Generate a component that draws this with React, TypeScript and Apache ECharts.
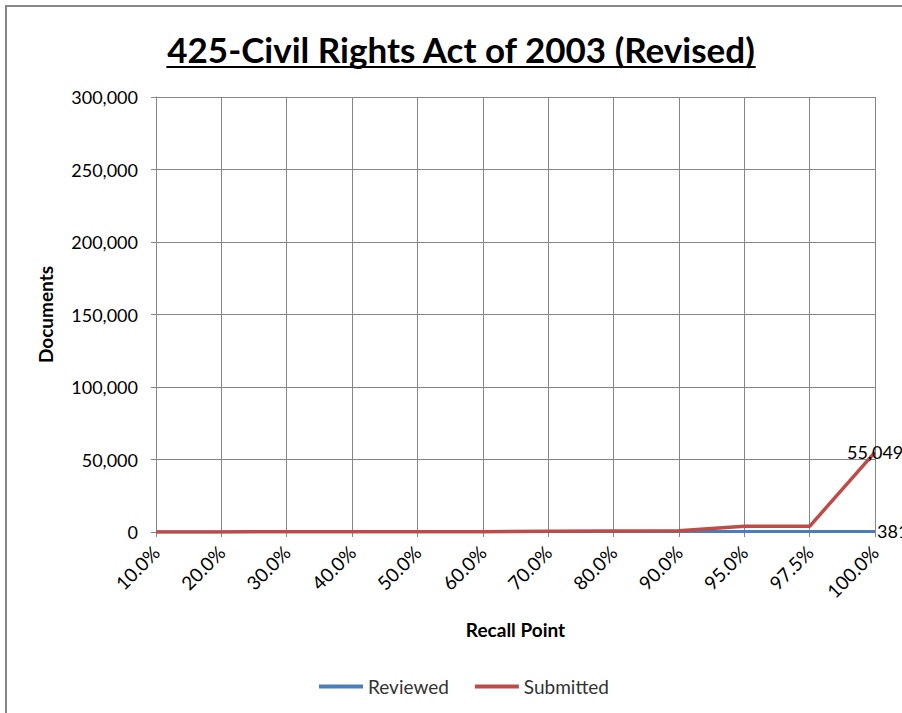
import React, { useEffect, useRef } from "react";
import * as echarts from "echarts";

const categories = ["10.0%", "20.0%", "30.0%", "40.0%", "50.0%", "60.0%", "70.0%", "80.0%", "90.0%", "95.0%", "97.5%", "100.0%"];
const reviewed = [35, 70, 110, 150, 185, 220, 260, 290, 320, 350, 365, 381];
const submitted = [40, 80, 120, 160, 200, 250, 450, 650, 800, 3900, 3900, 55049];
const yTicks = [0, 50000, 100000, 150000, 200000, 250000, 300000];
const titleText = "425-Civil Rights Act of 2003 (Revised)";
const seriesNames = ["Reviewed", "Submitted"];

const FONT = "Lato, 'Open Sans', sans-serif";

export default function App() {
  const ref = useRef<HTMLDivElement>(null);
  useEffect(() => {
    if (!ref.current) return;
    const chart = echarts.init(ref.current, undefined, { renderer: "svg" });
    const cv = document.createElement("canvas").getContext("2d")!;
    cv.font = `bold 32px Lato`;
    const w32 = cv.measureText(titleText).width;
    const titleSize = Math.round((32 * 588) / w32);
    cv.font = `bold ${titleSize}px Lato`;
    const tw = cv.measureText(titleText).width;
    const tcx = 461;
    const fmt = (v: number) => v.toLocaleString("en-US");
    const lastLabel = (data: number[], offset: number[]) =>
      data.map((v, i) =>
        i === data.length - 1
          ? { value: v, label: { show: true, position: "right", distance: 2, offset, formatter: fmt(v), color: "#000", fontSize: 18, fontFamily: FONT } }
          : v
      );
    chart.setOption({
      animation: false,
      backgroundColor: "#fff",
      textStyle: { fontFamily: FONT },
      graphic: [
        { type: "rect", shape: { x: 6, y: 6, width: 1000, height: 1000 }, style: { fill: "none", stroke: "#868686", lineWidth: 2 }, silent: true },
        { type: "text", x: tcx, y: 49, style: { text: titleText, font: `bold ${titleSize}px ${FONT}`, fill: "#000", align: "center", verticalAlign: "middle" } },
        { type: "line", shape: { x1: tcx - tw / 2, y1: 67, x2: tcx + tw / 2, y2: 67 }, style: { stroke: "#000", lineWidth: 2 } },
      ],
      grid: { left: 156, right: 27, top: 97, bottom: 181, containLabel: false },
      legend: {
        bottom: 12,
        left: 314,
        icon: "rect",
        itemWidth: 44,
        itemHeight: 4,
        itemGap: 26,
        textStyle: { fontSize: 19, color: "#333", fontFamily: FONT },
        data: seriesNames,
      },
      xAxis: {
        type: "category",
        data: categories,
        boundaryGap: false,
        name: "Recall Point",
        nameLocation: "middle",
        nameGap: 88,
        nameTextStyle: { fontSize: 19, fontWeight: "bold", color: "#000", fontFamily: FONT },
        axisLine: { lineStyle: { color: "#868686" } },
        axisTick: { show: true, length: 5, lineStyle: { color: "#868686" } },
        axisLabel: { rotate: 45, fontSize: 19, color: "#000", margin: 17, fontFamily: FONT, interval: 0 },
        splitLine: { show: true, lineStyle: { color: "#868686", width: 1 } },
      },
      yAxis: {
        type: "value",
        min: 0,
        max: 300000,
        interval: 50000,
        name: "Documents",
        nameLocation: "middle",
        nameGap: 101,
        nameRotate: 90,
        nameTextStyle: { fontSize: 19, fontWeight: "bold", color: "#000", fontFamily: FONT },
        axisLine: { show: true, lineStyle: { color: "#868686" } },
        axisTick: { show: true, length: 5, lineStyle: { color: "#868686" } },
        axisLabel: { fontSize: 18, color: "#000", margin: 18, fontFamily: FONT, formatter: (v: number) => (yTicks.includes(v) ? fmt(v) : "") },
        splitLine: { show: true, lineStyle: { color: "#868686", width: 1 } },
      },
      series: [
        {
          name: seriesNames[0],
          type: "line",
          data: lastLabel(reviewed, [0, 0]),
          symbol: "circle",
          symbolSize: 0,
          showSymbol: true,
          lineStyle: { color: "#4a7ebb", width: 3 },
          itemStyle: { color: "#4a7ebb" },
        },
        {
          name: seriesNames[1],
          type: "line",
          data: lastLabel(submitted, [-30, 0]),
          symbol: "circle",
          symbolSize: 0,
          showSymbol: true,
          lineStyle: { color: "#be4b48", width: 3.5 },
          itemStyle: { color: "#be4b48" },
        },
      ],
    });
    return () => chart.dispose();
  }, []);
  return <div ref={ref} style={{ position: "fixed", left: 0, top: 0, width: 902, height: 713 }} />;
}
